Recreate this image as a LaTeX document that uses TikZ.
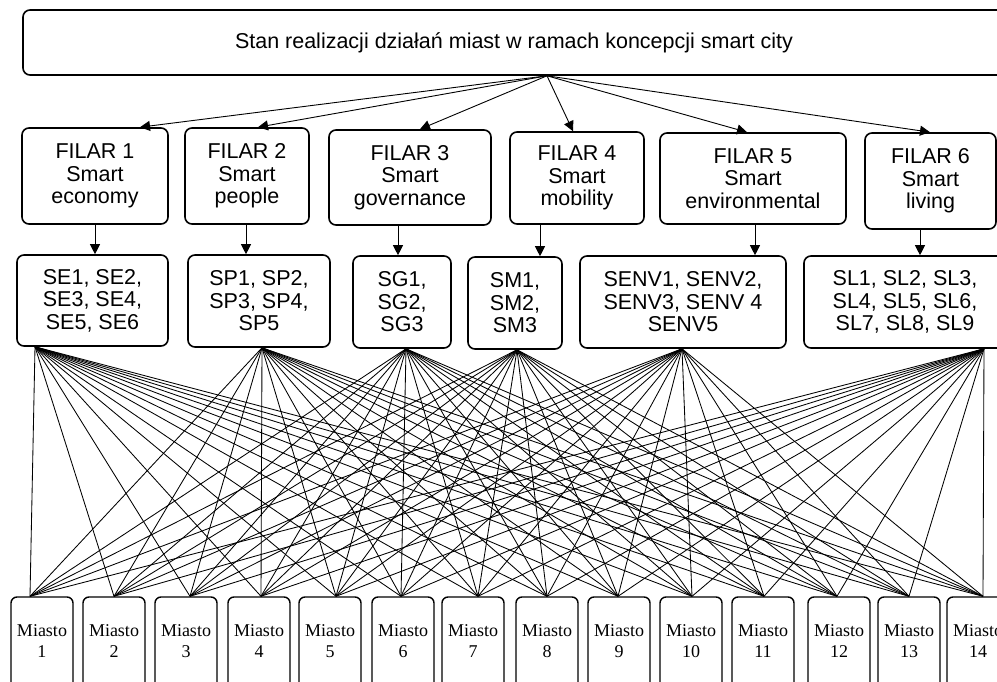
\documentclass[tikz,border=0pt]{standalone}
\usepackage{fontspec}
\setmainfont{Liberation Sans}
\newfontfamily\tnr{Liberation Serif}
\usetikzlibrary{arrows.meta}
\begin{document}
\begin{tikzpicture}[x=1pt,y=-1pt,
  box/.style={draw,line width=1.6pt,rounded corners=7pt,align=center,
    font=\fontsize{21.5}{22.5}\selectfont,inner sep=0pt},
  city/.style={draw,line width=1.4pt,rounded corners=6pt,minimum width=62pt,
    minimum height=120pt,inner sep=0pt},
  ctext/.style={font=\tnr\fontsize{18}{21.5}\selectfont,align=center,inner sep=0pt},
  arr/.style={line width=0.9pt,-{Triangle[length=10pt,width=10pt]}},
  link/.style={line width=0.85pt}]
\useasboundingbox (0,0) rectangle (997,682);
\clip (0,0) rectangle (997,682);

% top
\node[box,minimum width=982pt,minimum height=65pt] (top) at (514,42.5)
  {Stan realizacji działań miast w ramach koncepcji smart city};

% pillars
\node[box,minimum width=146pt,minimum height=96pt] (f1) at (95,176) {FILAR 1\\Smart\\economy};
\node[box,minimum width=124pt,minimum height=96pt] (f2) at (247,176) {FILAR 2\\Smart\\people};
\node[box,minimum width=162pt,minimum height=95pt] (f3) at (410,177.5) {FILAR 3\\Smart\\governance};
\node[box,minimum width=134pt,minimum height=92pt] (f4) at (577,178) {FILAR 4\\Smart\\mobility};
\node[box,minimum width=186pt,minimum height=91pt] (f5) at (753,178.5) {FILAR 5\\Smart\\environmental};
\node[box,minimum width=131pt,minimum height=96pt] (f6) at (930.5,181) {FILAR 6\\Smart\\living};

% indicator boxes
\node[box,minimum width=151pt,minimum height=91pt] (se) at (92.5,300.5) {SE1, SE2,\\SE3, SE4,\\SE5, SE6};
\node[box,minimum width=142pt,minimum height=92pt] (sp) at (259,301) {SP1, SP2,\\SP3, SP4,\\SP5};
\node[box,minimum width=98pt,minimum height=92pt] (sg) at (402,302) {SG1,\\SG2,\\SG3};
\node[box,minimum width=94pt,minimum height=92pt] (sm) at (515,303) {SM1,\\SM2,\\SM3};
\node[box,minimum width=206pt,minimum height=92pt] (senv) at (683,302) {SENV1, SENV2,\\SENV3, SENV 4\\SENV5};
\node[box,minimum width=202pt,minimum height=92pt] (sl) at (905,302) {SL1, SL2, SL3,\\SL4, SL5, SL6,\\SL7, SL8, SL9};

% cities
\foreach \i/\l in {1/11,2/83,3/155,4/228,5/299,6/372,7/442,8/516,9/588,10/660,11/732,12/808,13/878,14/947}{
  \node[city] (m\i) at (\l+31,657) {};
  \node[ctext] (mt\i) at (\l+31,641) {Miasto\\\i};
}

% arrows top -> pillars
\coordinate (o) at ([xshift=33pt]top.south);
\draw[arr] (o) -- ([xshift=45pt]f1.north);
\draw[arr] (o) -- ([xshift=11pt]f2.north);
\draw[arr] (o) -- ([xshift=10pt]f3.north);
\draw[arr] (o) -- ([xshift=-4pt]f4.north);
\draw[arr] (o) -- ([xshift=-6pt]f5.north);
\draw[arr] (o) -- ([xshift=-0.5pt]f6.north);

% arrows pillars -> indicators
\draw[arr] (f1.south) -- (f1.south |- se.north);
\draw[arr] ([xshift=-1pt]f2.south) -- ([xshift=-1pt]f2.south |- sp.north);
\draw[arr] ([xshift=-12pt]f3.south) -- ([xshift=-12pt]f3.south |- sg.north);
\draw[arr] ([xshift=-37pt]f4.south) -- ([xshift=-37pt]f4.south |- sm.north);
\draw[arr] ([xshift=2pt]f5.south) -- ([xshift=2pt]f5.south |- senv.north);
\draw[arr] ([xshift=-10.5pt]f6.south) -- ([xshift=-10.5pt]f6.south |- sl.north);

% links indicators -> cities
\foreach \s/\a in {se/-57.5,sp/3,sg/4,sm/2,senv/-1,sl/79}{
  \foreach \m/\b in {1/-12,2/0,3/4,4/2,5/6,6/-2,7/5,8/0,9/-1,10/1,11/1,12/-2,13/0,14/5}{
    \draw[link] ([xshift=\a pt]\s.south) -- ([xshift=\b pt]m\m.north);
  }
}
\end{tikzpicture}
\end{document}
